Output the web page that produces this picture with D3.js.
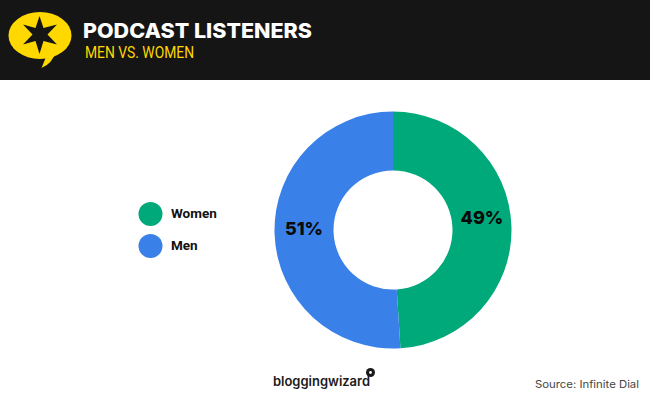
<!DOCTYPE html>
<html><head><meta charset="utf-8">
<script src="https://cdn.jsdelivr.net/npm/d3@7/dist/d3.min.js"></script>
<style>html,body{margin:0;padding:0;background:#fff}svg{display:block}</style>
</head><body><div id="c"></div>
<script>
const categories = ["Women", "Men"];
const values = [49, 51];
const labels = ["49%", "51%"];
const colors = ["#00a97a", "#3a80e9"];
const title = "PODCAST LISTENERS";
const subtitle = "MEN VS. WOMEN";
const source = "Source: Infinite Dial";
const brand = "bloggingwizard";

const svg = d3.select("#c").append("svg").attr("width",650).attr("height",400);
svg.append("rect").attr("width",650).attr("height",80).attr("fill","#151515");

// header logo
const logo = svg.append("g");
logo.append("ellipse").attr("cx",40).attr("cy",35.5).attr("rx",31.5).attr("ry",23.5).attr("fill","#ffd800");
logo.append("path").attr("d","M43 56 L46 57 L41.5 68 Q52 64 57 50 Z").attr("fill","#ffd800");
logo.append("path").attr("fill","#151515")
  .attr("d","M39.5 16 L43.5 28 L57 24.5 L47.5 34.5 L57 44.5 L43.5 41 L39.5 54 L35.5 41 L23 44.5 L32.5 34.5 L23 24.5 L35.5 28 Z");

const head = (x,y,t,fam,size,w,fill,len)=>svg.append("text").attr("x",x).attr("y",y).text(t)
  .attr("font-family",fam).attr("font-size",size).attr("font-weight",w).attr("fill",fill)
  .attr("textLength",len).attr("lengthAdjust","spacingAndGlyphs");
head(83,38,title,"Inter",20.5,800,"#ffffff",229);
head(85,57.5,subtitle,"Roboto",17,400,"#ffd800",109);

// donut
const cx=393, cy=230;
const pie=d3.pie().sort(null).value(d=>d);
const arc=d3.arc().innerRadius(59.5).outerRadius(118.5);
const g=svg.append("g").attr("transform",`translate(${cx},${cy})`);
const arcs=pie(values);
g.selectAll("path").data(arcs).join("path").attr("d",arc).attr("fill",(d,i)=>colors[i]);
const labelArc=d3.arc().innerRadius(89).outerRadius(89);
g.selectAll("text").data(arcs).join("text")
  .attr("transform",(d,i)=>{const [x,y]=labelArc.centroid(d);return `translate(${x},${y+(i===0?-10:-4)})`;})
  .attr("text-anchor","middle").attr("dy","0.36em")
  .attr("font-family","Inter").attr("font-weight",800).attr("font-size",18).attr("fill","#0a0a0a")
  .text((d,i)=>labels[i]);

// legend
const ly=d3.scalePoint().domain(categories).range([214,246]);
const lg=svg.append("g").selectAll("g").data(categories).join("g").attr("transform",d=>`translate(0,${ly(d)})`);
lg.append("circle").attr("cx",150.5).attr("r",12).attr("fill",(d,i)=>colors[i]);
lg.append("text").attr("x",171).attr("y",-1).attr("dy","0.35em").attr("font-family","Roboto").attr("font-weight",700)
  .attr("font-size",13.5).attr("fill","#111").text(d=>d);

// footer
svg.append("text").attr("x",273).attr("y",386).text(brand).attr("font-family","Inter").attr("font-weight",600)
  .attr("font-size",13).attr("fill","#1a1a1a").attr("textLength",97).attr("lengthAdjust","spacingAndGlyphs");
const pin=svg.append("g");
pin.append("circle").attr("cx",370.5).attr("cy",372.5).attr("r",4.5).attr("fill","#1a1a1a");
pin.append("circle").attr("cx",370.5).attr("cy",372.5).attr("r",1.4).attr("fill","#fff");
svg.append("text").attr("x",535).attr("y",388).text(source)
  .attr("font-family","Inter").attr("font-size",10.5).attr("fill","#444").attr("textLength",104).attr("lengthAdjust","spacingAndGlyphs");
</script></body></html>
